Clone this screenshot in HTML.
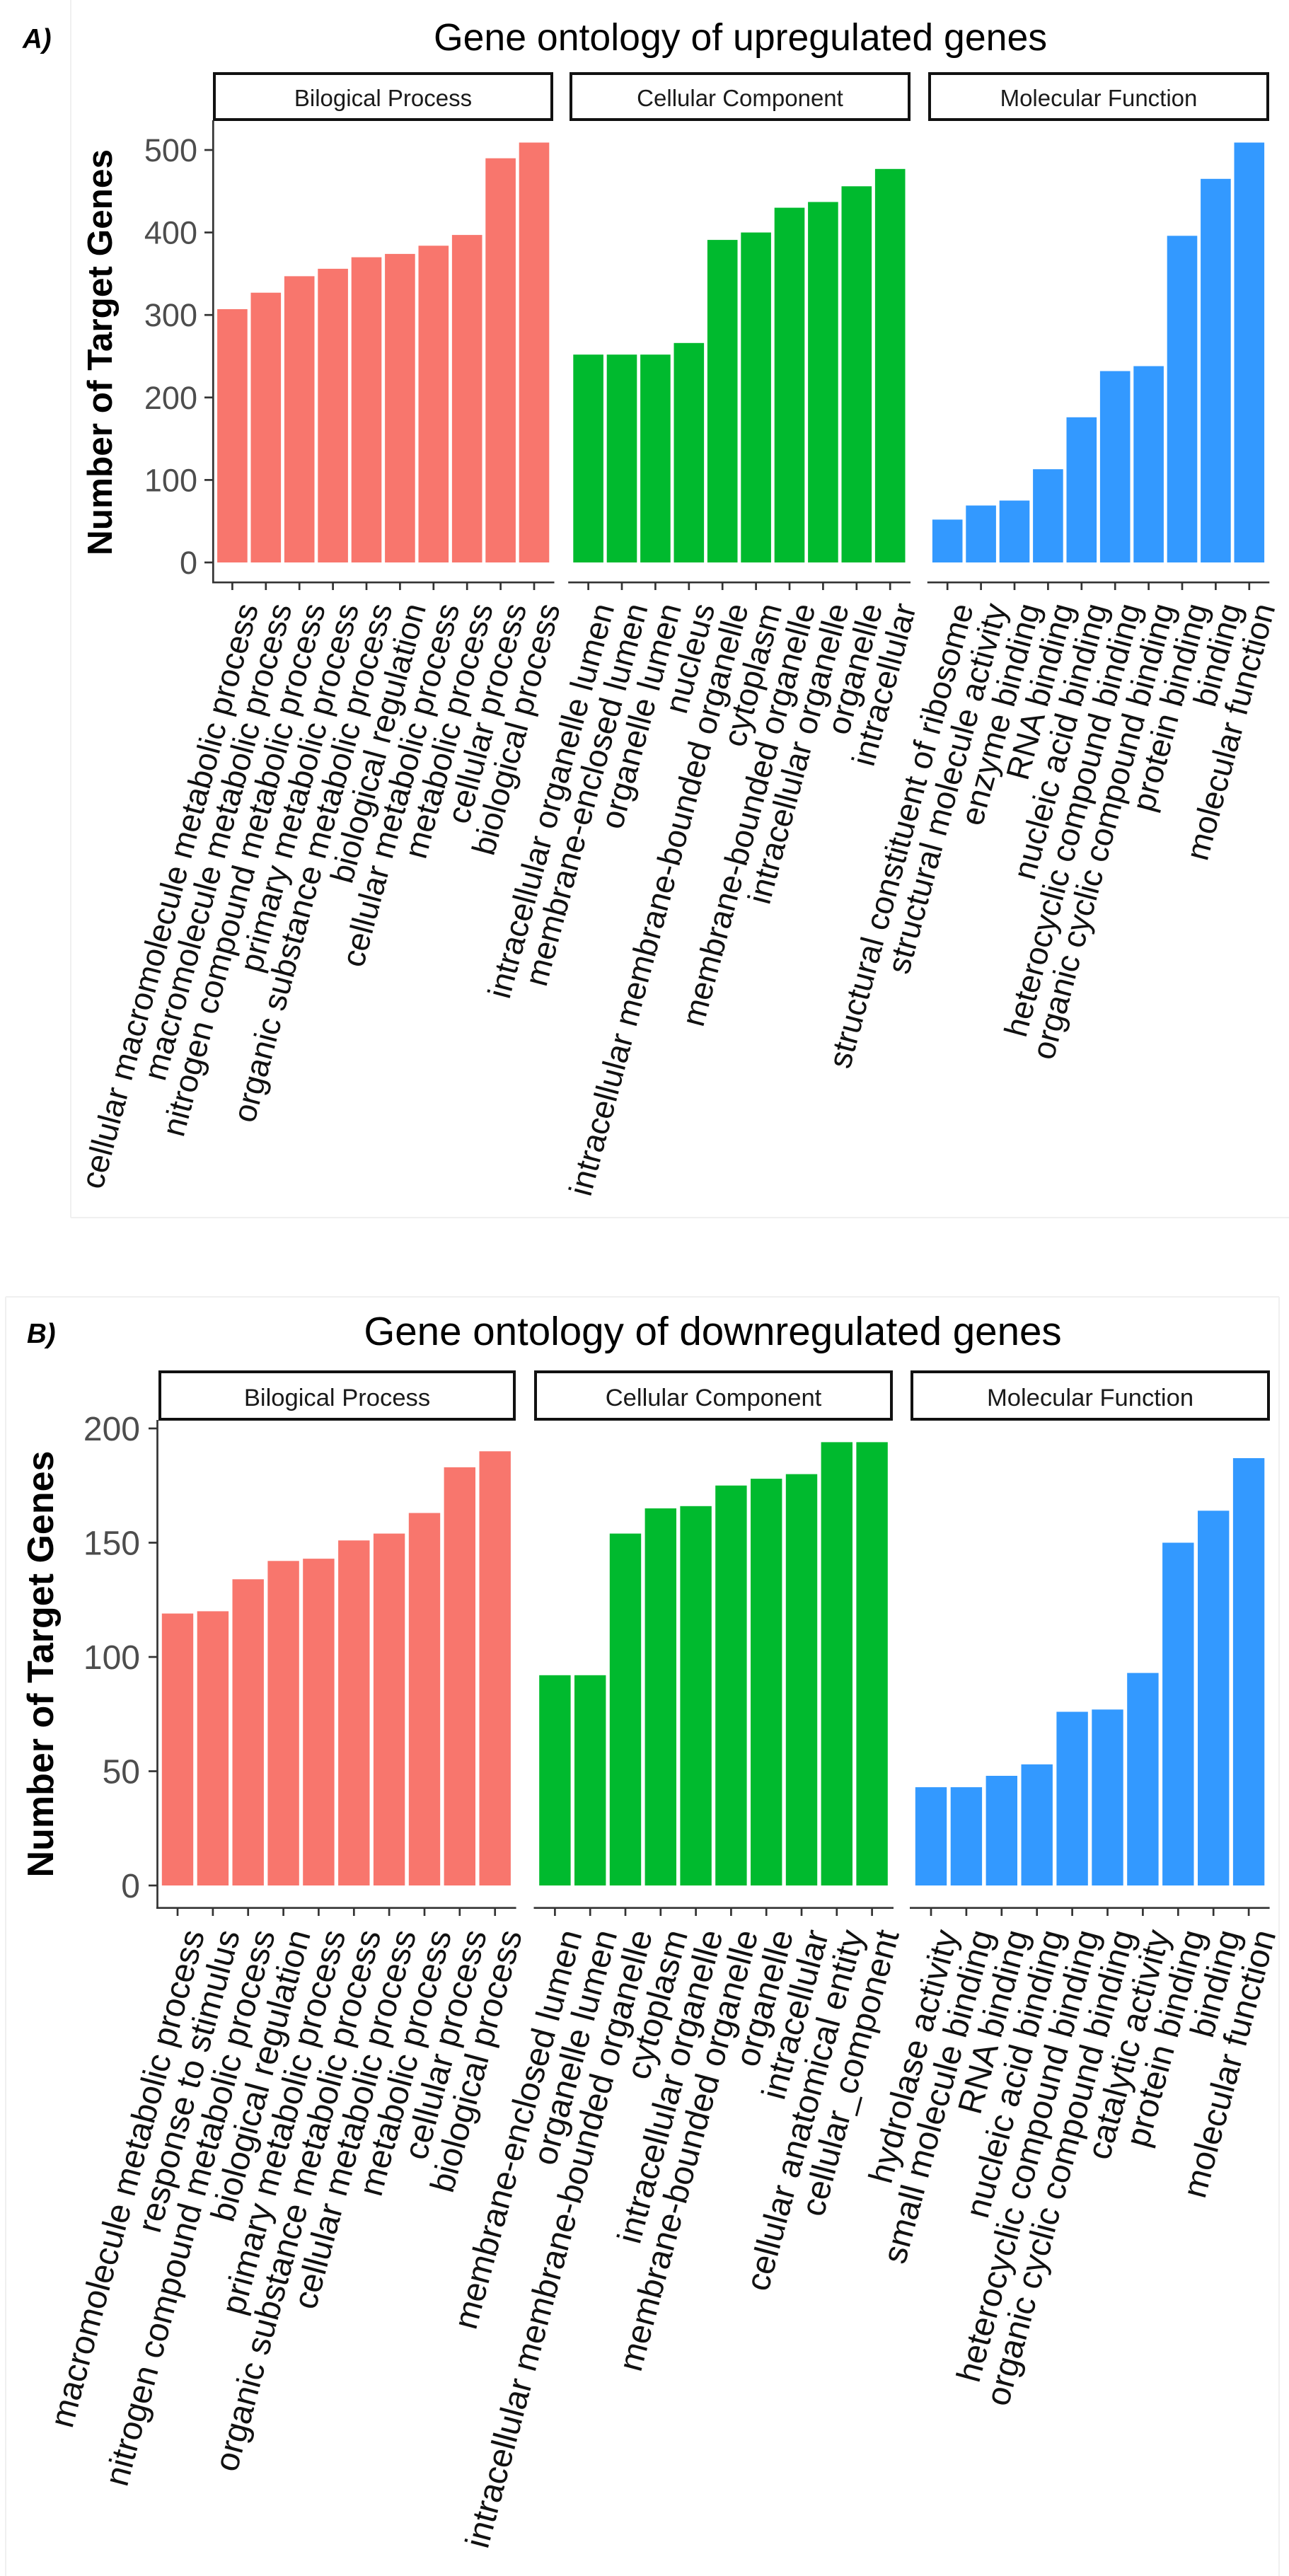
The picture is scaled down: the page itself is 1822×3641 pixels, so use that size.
<!DOCTYPE html>
<html><head><meta charset="utf-8"><style>
html,body{margin:0;padding:0;background:#fff;}
svg{display:block;}
text{font-family:"Liberation Sans",Arial,sans-serif;}
.xl{font-size:46px;fill:#111;}
.xl2{font-size:48px;fill:#111;}
.yt{font-size:45px;fill:#4d4d4d;}
.yt2{font-size:48px;fill:#4d4d4d;}
.st{font-size:33px;fill:#1a1a1a;}
.st2{font-size:34.6px;fill:#1a1a1a;}
.r{fill:#F8766D;} .g{fill:#00BA2E;} .b{fill:#3399FF;}
</style></head><body>
<svg width="1822" height="3641" viewBox="0 0 1822 3641" xmlns="http://www.w3.org/2000/svg">
<rect x="0" y="0" width="1822" height="3641" fill="#fff"/>
<!-- faint image boundaries -->
<g stroke="#f0f0f0" stroke-width="2" fill="none">
<line x1="100" y1="0" x2="100" y2="1721"/>
<line x1="100" y1="1721" x2="1822" y2="1721"/>
<line x1="8" y1="1833" x2="1808" y2="1833"/>
<line x1="8" y1="1833" x2="8" y2="3641"/>
<line x1="1808" y1="1833" x2="1808" y2="3641"/>
</g>

<!-- ============ TOP (A) ============ -->
<text x="32" y="68" font-size="38.5" font-weight="bold" font-style="italic" fill="#000">A)</text>
<text x="1046.5" y="71" font-size="53.6" text-anchor="middle" fill="#000">Gene ontology of upregulated genes</text>

<!-- strips -->
<g fill="none" stroke="#111" stroke-width="4">
<rect x="303" y="104" width="477" height="65"/>
<rect x="807" y="104" width="478" height="65"/>
<rect x="1314" y="104" width="478" height="65"/>
</g>
<text class="st" x="541.5" y="150" text-anchor="middle">Bilogical Process</text>
<text class="st" x="1046" y="150" text-anchor="middle">Cellular Component</text>
<text class="st" x="1553" y="150" text-anchor="middle">Molecular Function</text>

<!-- y title -->
<text transform="translate(158,498) rotate(-90)" font-size="49.5" font-weight="bold" text-anchor="middle" fill="#000">Number of Target Genes</text>

<!-- y axis -->
<g stroke="#333" stroke-width="2.7">
<line x1="301.3" y1="170" x2="301.3" y2="824.5"/>
<line x1="289" y1="795" x2="301" y2="795"/>
<line x1="289" y1="678.4" x2="301" y2="678.4"/>
<line x1="289" y1="561.8" x2="301" y2="561.8"/>
<line x1="289" y1="445.2" x2="301" y2="445.2"/>
<line x1="289" y1="328.6" x2="301" y2="328.6"/>
<line x1="289" y1="212" x2="301" y2="212"/>
</g>
<g class="yt" text-anchor="end">
<text class="yt" x="279" y="811">0</text>
<text class="yt" x="279" y="694.4">100</text>
<text class="yt" x="279" y="577.8">200</text>
<text class="yt" x="279" y="461.2">300</text>
<text class="yt" x="279" y="344.6">400</text>
<text class="yt" x="279" y="228">500</text>
</g>

<!-- bars top -->
<g class="r">
<rect x="307.1" y="437.0" width="42.6" height="358.0"/>
<rect x="354.5" y="413.7" width="42.6" height="381.3"/>
<rect x="401.9" y="390.4" width="42.6" height="404.6"/>
<rect x="449.3" y="379.9" width="42.6" height="415.1"/>
<rect x="496.7" y="363.6" width="42.6" height="431.4"/>
<rect x="544.1" y="358.9" width="42.6" height="436.1"/>
<rect x="591.5" y="347.3" width="42.6" height="447.7"/>
<rect x="638.9" y="332.1" width="42.6" height="462.9"/>
<rect x="686.3" y="223.7" width="42.6" height="571.3"/>
<rect x="733.7" y="201.5" width="42.6" height="593.5"/>
</g>
<g class="g">
<rect x="810.3" y="501.2" width="42.6" height="293.8"/>
<rect x="857.7" y="501.2" width="42.6" height="293.8"/>
<rect x="905.1" y="501.2" width="42.6" height="293.8"/>
<rect x="952.5" y="484.8" width="42.6" height="310.2"/>
<rect x="999.9" y="339.1" width="42.6" height="455.9"/>
<rect x="1047.3" y="328.6" width="42.6" height="466.4"/>
<rect x="1094.7" y="293.6" width="42.6" height="501.4"/>
<rect x="1142.1" y="285.5" width="42.6" height="509.5"/>
<rect x="1189.5" y="263.3" width="42.6" height="531.7"/>
<rect x="1236.9" y="238.8" width="42.6" height="556.2"/>
</g>
<g class="b">
<rect x="1317.9" y="734.4" width="42.6" height="60.6"/>
<rect x="1365.3" y="714.5" width="42.6" height="80.5"/>
<rect x="1412.7" y="707.5" width="42.6" height="87.5"/>
<rect x="1460.1" y="663.2" width="42.6" height="131.8"/>
<rect x="1507.5" y="589.8" width="42.6" height="205.2"/>
<rect x="1554.9" y="524.5" width="42.6" height="270.5"/>
<rect x="1602.3" y="517.5" width="42.6" height="277.5"/>
<rect x="1649.7" y="333.3" width="42.6" height="461.7"/>
<rect x="1697.1" y="252.8" width="42.6" height="542.2"/>
<rect x="1744.5" y="201.5" width="42.6" height="593.5"/>
</g>

<!-- x axes top -->
<g stroke="#333" stroke-width="2.7">
<line x1="300" y1="823.2" x2="783.5" y2="823.2"/>
<line x1="803.2" y1="823.2" x2="1287" y2="823.2"/>
<line x1="1310.8" y1="823.2" x2="1794.3" y2="823.2"/>
<line x1="328.4" y1="823" x2="328.4" y2="834"/><line x1="375.8" y1="823" x2="375.8" y2="834"/><line x1="423.2" y1="823" x2="423.2" y2="834"/><line x1="470.6" y1="823" x2="470.6" y2="834"/><line x1="518" y1="823" x2="518" y2="834"/><line x1="565.4" y1="823" x2="565.4" y2="834"/><line x1="612.8" y1="823" x2="612.8" y2="834"/><line x1="660.2" y1="823" x2="660.2" y2="834"/><line x1="707.6" y1="823" x2="707.6" y2="834"/><line x1="755" y1="823" x2="755" y2="834"/>
<line x1="831.6" y1="823" x2="831.6" y2="834"/><line x1="879" y1="823" x2="879" y2="834"/><line x1="926.4" y1="823" x2="926.4" y2="834"/><line x1="973.8" y1="823" x2="973.8" y2="834"/><line x1="1021.2" y1="823" x2="1021.2" y2="834"/><line x1="1068.6" y1="823" x2="1068.6" y2="834"/><line x1="1116" y1="823" x2="1116" y2="834"/><line x1="1163.4" y1="823" x2="1163.4" y2="834"/><line x1="1210.8" y1="823" x2="1210.8" y2="834"/><line x1="1258.2" y1="823" x2="1258.2" y2="834"/>
<line x1="1339.2" y1="823" x2="1339.2" y2="834"/><line x1="1386.6" y1="823" x2="1386.6" y2="834"/><line x1="1434" y1="823" x2="1434" y2="834"/><line x1="1481.4" y1="823" x2="1481.4" y2="834"/><line x1="1528.8" y1="823" x2="1528.8" y2="834"/><line x1="1576.2" y1="823" x2="1576.2" y2="834"/><line x1="1623.6" y1="823" x2="1623.6" y2="834"/><line x1="1671" y1="823" x2="1671" y2="834"/><line x1="1718.4" y1="823" x2="1718.4" y2="834"/><line x1="1765.8" y1="823" x2="1765.8" y2="834"/>
</g>

<!-- x labels top -->
<g class="xl" text-anchor="end">
<text class="xl" transform="translate(365.4,858) rotate(-75)">cellular macromolecule metabolic process</text>
<text class="xl" transform="translate(412.8,858) rotate(-75)">macromolecule metabolic process</text>
<text class="xl" transform="translate(460.2,858) rotate(-75)">nitrogen compound metabolic process</text>
<text class="xl" transform="translate(507.6,858) rotate(-75)">primary metabolic process</text>
<text class="xl" transform="translate(555,858) rotate(-75)">organic substance metabolic process</text>
<text class="xl" transform="translate(602.4,858) rotate(-75)">biological regulation</text>
<text class="xl" transform="translate(649.8,858) rotate(-75)">cellular metabolic process</text>
<text class="xl" transform="translate(697.2,858) rotate(-75)">metabolic process</text>
<text class="xl" transform="translate(744.6,858) rotate(-75)">cellular process</text>
<text class="xl" transform="translate(792,858) rotate(-75)">biological process</text>

<text class="xl" transform="translate(868.6,858) rotate(-75)">intracellular organelle lumen</text>
<text class="xl" transform="translate(916,858) rotate(-75)">membrane-enclosed lumen</text>
<text class="xl" transform="translate(963.4,858) rotate(-75)">organelle lumen</text>
<text class="xl" transform="translate(1010.8,858) rotate(-75)">nucleus</text>
<text class="xl" transform="translate(1058.2,858) rotate(-75)">intracellular membrane-bounded organelle</text>
<text class="xl" transform="translate(1105.6,858) rotate(-75)">cytoplasm</text>
<text class="xl" transform="translate(1153,858) rotate(-75)">membrane-bounded organelle</text>
<text class="xl" transform="translate(1200.4,858) rotate(-75)">intracellular organelle</text>
<text class="xl" transform="translate(1247.8,858) rotate(-75)">organelle</text>
<text class="xl" transform="translate(1295.2,858) rotate(-75)">intracellular</text>

<text class="xl" transform="translate(1376.2,858) rotate(-75)">structural constituent of ribosome</text>
<text class="xl" transform="translate(1423.6,858) rotate(-75)">structural molecule activity</text>
<text class="xl" transform="translate(1471,858) rotate(-75)">enzyme binding</text>
<text class="xl" transform="translate(1518.4,858) rotate(-75)">RNA binding</text>
<text class="xl" transform="translate(1565.8,858) rotate(-75)">nucleic acid binding</text>
<text class="xl" transform="translate(1613.2,858) rotate(-75)">heterocyclic compound binding</text>
<text class="xl" transform="translate(1660.6,858) rotate(-75)">organic cyclic compound binding</text>
<text class="xl" transform="translate(1708,858) rotate(-75)">protein binding</text>
<text class="xl" transform="translate(1755.4,858) rotate(-75)">binding</text>
<text class="xl" transform="translate(1802.8,858) rotate(-75)">molecular function</text>
</g>

<!-- ============ BOTTOM (B) ============ -->
<text x="38" y="1898" font-size="38.5" font-weight="bold" font-style="italic" fill="#000">B)</text>
<text x="1007.5" y="1901" font-size="56.5" text-anchor="middle" fill="#000">Gene ontology of downregulated genes</text>

<g fill="none" stroke="#111" stroke-width="4">
<rect x="226" y="1939" width="501" height="67"/>
<rect x="757" y="1939" width="503" height="67"/>
<rect x="1289" y="1939" width="504" height="67"/>
</g>
<text class="st2" x="476.5" y="1987" text-anchor="middle">Bilogical Process</text>
<text class="st2" x="1008.5" y="1987" text-anchor="middle">Cellular Component</text>
<text class="st2" x="1541" y="1987" text-anchor="middle">Molecular Function</text>

<text transform="translate(75,2352) rotate(-90)" font-size="52" font-weight="bold" text-anchor="middle" fill="#000">Number of Target Genes</text>

<g stroke="#333" stroke-width="2.7">
<line x1="222.5" y1="2007" x2="222.5" y2="2698"/>
<line x1="210" y1="2665" x2="222" y2="2665"/>
<line x1="210" y1="2503.5" x2="222" y2="2503.5"/>
<line x1="210" y1="2342" x2="222" y2="2342"/>
<line x1="210" y1="2180.5" x2="222" y2="2180.5"/>
<line x1="210" y1="2019" x2="222" y2="2019"/>
</g>
<g text-anchor="end">
<text class="yt2" x="198" y="2682">0</text>
<text class="yt2" x="198" y="2520.5">50</text>
<text class="yt2" x="198" y="2359">100</text>
<text class="yt2" x="198" y="2197.5">150</text>
<text class="yt2" x="198" y="2036">200</text>
</g>

<g class="r">
<rect x="228.8" y="2280.6" width="44.4" height="384.4"/>
<rect x="278.7" y="2277.4" width="44.4" height="387.6"/>
<rect x="328.5" y="2232.2" width="44.4" height="432.8"/>
<rect x="378.4" y="2206.3" width="44.4" height="458.7"/>
<rect x="428.2" y="2203.1" width="44.4" height="461.9"/>
<rect x="478.1" y="2177.3" width="44.4" height="487.7"/>
<rect x="527.9" y="2167.6" width="44.4" height="497.4"/>
<rect x="577.8" y="2138.5" width="44.4" height="526.5"/>
<rect x="627.6" y="2073.9" width="44.4" height="591.1"/>
<rect x="677.5" y="2051.3" width="44.4" height="613.7"/>
</g>
<g class="g">
<rect x="762.2" y="2367.8" width="44.4" height="297.2"/>
<rect x="812.0" y="2367.8" width="44.4" height="297.2"/>
<rect x="861.8" y="2167.6" width="44.4" height="497.4"/>
<rect x="911.6" y="2132.0" width="44.4" height="533.0"/>
<rect x="961.4" y="2128.8" width="44.4" height="536.2"/>
<rect x="1011.2" y="2099.7" width="44.4" height="565.3"/>
<rect x="1061.0" y="2090.1" width="44.4" height="574.9"/>
<rect x="1110.8" y="2083.6" width="44.4" height="581.4"/>
<rect x="1160.6" y="2038.4" width="44.4" height="626.6"/>
<rect x="1210.4" y="2038.4" width="44.4" height="626.6"/>
</g>
<g class="b">
<rect x="1293.8" y="2526.1" width="44.4" height="138.9"/>
<rect x="1343.7" y="2526.1" width="44.4" height="138.9"/>
<rect x="1393.6" y="2510.0" width="44.4" height="155.0"/>
<rect x="1443.5" y="2493.8" width="44.4" height="171.2"/>
<rect x="1493.4" y="2419.5" width="44.4" height="245.5"/>
<rect x="1543.3" y="2416.3" width="44.4" height="248.7"/>
<rect x="1593.2" y="2364.6" width="44.4" height="300.4"/>
<rect x="1643.1" y="2180.5" width="44.4" height="484.5"/>
<rect x="1693.0" y="2135.3" width="44.4" height="529.7"/>
<rect x="1742.9" y="2061.0" width="44.4" height="604.0"/>
</g>

<g stroke="#333" stroke-width="2.7">
<line x1="221" y1="2696.7" x2="729.6" y2="2696.7"/>
<line x1="754.5" y1="2696.7" x2="1263" y2="2696.7"/>
<line x1="1286" y1="2696.7" x2="1794.6" y2="2696.7"/>
<line x1="251" y1="2697" x2="251" y2="2708"/><line x1="300.9" y1="2697" x2="300.9" y2="2708"/><line x1="350.7" y1="2697" x2="350.7" y2="2708"/><line x1="400.6" y1="2697" x2="400.6" y2="2708"/><line x1="450.4" y1="2697" x2="450.4" y2="2708"/><line x1="500.3" y1="2697" x2="500.3" y2="2708"/><line x1="550.1" y1="2697" x2="550.1" y2="2708"/><line x1="600" y1="2697" x2="600" y2="2708"/><line x1="649.8" y1="2697" x2="649.8" y2="2708"/><line x1="699.7" y1="2697" x2="699.7" y2="2708"/>
<line x1="784.4" y1="2697" x2="784.4" y2="2708"/><line x1="834.2" y1="2697" x2="834.2" y2="2708"/><line x1="884" y1="2697" x2="884" y2="2708"/><line x1="933.8" y1="2697" x2="933.8" y2="2708"/><line x1="983.6" y1="2697" x2="983.6" y2="2708"/><line x1="1033.4" y1="2697" x2="1033.4" y2="2708"/><line x1="1083.2" y1="2697" x2="1083.2" y2="2708"/><line x1="1133" y1="2697" x2="1133" y2="2708"/><line x1="1182.8" y1="2697" x2="1182.8" y2="2708"/><line x1="1232.6" y1="2697" x2="1232.6" y2="2708"/>
<line x1="1316" y1="2697" x2="1316" y2="2708"/><line x1="1365.9" y1="2697" x2="1365.9" y2="2708"/><line x1="1415.8" y1="2697" x2="1415.8" y2="2708"/><line x1="1465.7" y1="2697" x2="1465.7" y2="2708"/><line x1="1515.6" y1="2697" x2="1515.6" y2="2708"/><line x1="1565.5" y1="2697" x2="1565.5" y2="2708"/><line x1="1615.4" y1="2697" x2="1615.4" y2="2708"/><line x1="1665.3" y1="2697" x2="1665.3" y2="2708"/><line x1="1715.2" y1="2697" x2="1715.2" y2="2708"/><line x1="1765.1" y1="2697" x2="1765.1" y2="2708"/>
</g>

<g text-anchor="end">
<text class="xl2" transform="translate(289.5,2733) rotate(-75)">macromolecule metabolic process</text>
<text class="xl2" transform="translate(339.4,2733) rotate(-75)">response to stimulus</text>
<text class="xl2" transform="translate(389.2,2733) rotate(-75)">nitrogen compound metabolic process</text>
<text class="xl2" transform="translate(439.1,2733) rotate(-75)">biological regulation</text>
<text class="xl2" transform="translate(488.9,2733) rotate(-75)">primary metabolic process</text>
<text class="xl2" transform="translate(538.8,2733) rotate(-75)">organic substance metabolic process</text>
<text class="xl2" transform="translate(588.6,2733) rotate(-75)">cellular metabolic process</text>
<text class="xl2" transform="translate(638.5,2733) rotate(-75)">metabolic process</text>
<text class="xl2" transform="translate(688.3,2733) rotate(-75)">cellular process</text>
<text class="xl2" transform="translate(738.2,2733) rotate(-75)">biological process</text>

<text class="xl2" transform="translate(822.9,2733) rotate(-75)">membrane-enclosed lumen</text>
<text class="xl2" transform="translate(872.7,2733) rotate(-75)">organelle lumen</text>
<text class="xl2" transform="translate(922.5,2733) rotate(-75)">intracellular membrane-bounded organelle</text>
<text class="xl2" transform="translate(972.3,2733) rotate(-75)">cytoplasm</text>
<text class="xl2" transform="translate(1022.1,2733) rotate(-75)">intracellular organelle</text>
<text class="xl2" transform="translate(1071.9,2733) rotate(-75)">membrane-bounded organelle</text>
<text class="xl2" transform="translate(1121.7,2733) rotate(-75)">organelle</text>
<text class="xl2" transform="translate(1171.5,2733) rotate(-75)">intracellular</text>
<text class="xl2" transform="translate(1221.3,2733) rotate(-75)">cellular anatomical entity</text>
<text class="xl2" transform="translate(1271.1,2733) rotate(-75)">cellular_component</text>

<text class="xl2" transform="translate(1354.5,2733) rotate(-75)">hydrolase activity</text>
<text class="xl2" transform="translate(1404.4,2733) rotate(-75)">small molecule binding</text>
<text class="xl2" transform="translate(1454.3,2733) rotate(-75)">RNA binding</text>
<text class="xl2" transform="translate(1504.2,2733) rotate(-75)">nucleic acid binding</text>
<text class="xl2" transform="translate(1554.1,2733) rotate(-75)">heterocyclic compound binding</text>
<text class="xl2" transform="translate(1604,2733) rotate(-75)">organic cyclic compound binding</text>
<text class="xl2" transform="translate(1653.9,2733) rotate(-75)">catalytic activity</text>
<text class="xl2" transform="translate(1703.8,2733) rotate(-75)">protein binding</text>
<text class="xl2" transform="translate(1753.7,2733) rotate(-75)">binding</text>
<text class="xl2" transform="translate(1803.6,2733) rotate(-75)">molecular function</text>
</g>
</svg>
</body></html>
